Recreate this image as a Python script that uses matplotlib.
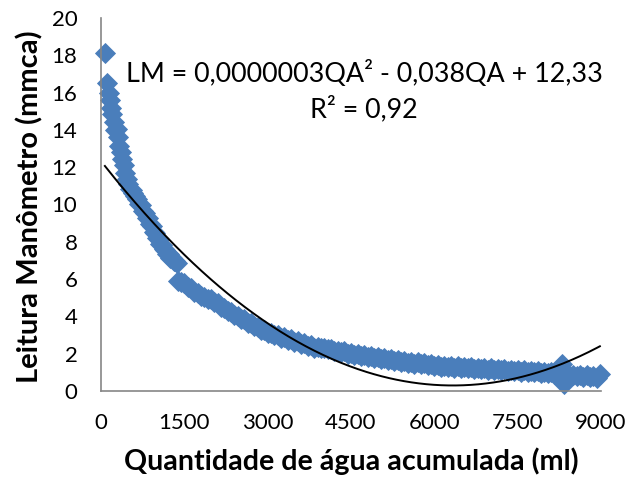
import matplotlib
matplotlib.use("Agg")
import matplotlib.pyplot as plt
import numpy as np

# ---- data ----
water_ml = [
    # steep section
    70, 108, 135, 162, 180, 198, 225, 252, 280, 306,
    330, 355, 379, 405, 432, 460, 487, 515, 550, 580,
    613, 645, 680, 720, 758, 790, 820, 850, 884, 915,
    950, 980, 1010, 1040, 1070, 1100, 1130, 1160, 1190, 1220,
    1250, 1280, 1310, 1340, 1371,
    # after the step
    1390, 1440, 1500, 1560, 1620, 1680, 1740, 1800, 1860, 1920,
    1980, 2040, 2100, 2160, 2220, 2280, 2340, 2400, 2460, 2520,
    2580, 2640, 2700, 2760, 2820, 2880, 2940, 3000, 3060, 3120,
    3180, 3240, 3300, 3360, 3420, 3480, 3540, 3600, 3660, 3720,
    3780, 3840, 3900, 3960, 4020, 4080, 4140, 4200, 4260, 4320,
    4380, 4440, 4500, 4560, 4620, 4680, 4740, 4800, 4860, 4920,
    4980, 5040, 5100, 5160, 5220, 5280, 5340, 5400, 5460, 5520,
    5580, 5640, 5700, 5760, 5820, 5880, 5940, 6000, 6060, 6120,
    6180, 6240, 6300, 6360, 6420, 6480, 6540, 6600, 6660, 6720,
    6780, 6840, 6900, 6960, 7020, 7080, 7140, 7200, 7260, 7320,
    7380, 7440, 7500, 7560, 7620, 7680, 7740, 7800, 7860, 7920,
    7980, 8040, 8100, 8160, 8220, 8290, 8330, 8380, 8440, 8500,
    8560, 8620, 8680, 8740, 8800, 8860, 8920, 8980,
]
reading_mmca = [
    # steep section
    18.15, 16.5, 16.0, 15.6, 15.2, 14.85, 14.45, 14.0, 14.05, 13.6,
    13.15, 12.8, 12.45, 12.1, 11.7, 11.35, 11.1, 10.85, 10.8, 10.6,
    10.45, 10.3, 10.05, 9.95, 9.65, 9.55, 9.3, 9.25, 8.95, 8.85,
    8.55, 8.47, 8.2, 8.15, 7.9, 7.85, 7.6, 7.57, 7.35, 7.35,
    7.15, 7.15, 6.95, 6.97, 6.85,
    # after the step
    5.9, 5.82, 5.78, 5.58, 5.5, 5.32, 5.25, 5.08, 5.05, 4.92,
    4.92, 4.75, 4.7, 4.52, 4.47, 4.28, 4.24, 4.05, 4.02, 3.88,
    3.84, 3.67, 3.65, 3.47, 3.44, 3.29, 3.27, 3.12, 3.12, 2.98,
    3.0, 2.86, 2.9, 2.76, 2.78, 2.64, 2.66, 2.52, 2.55, 2.42,
    2.44, 2.33, 2.38, 2.28, 2.32, 2.23, 2.27, 2.12, 2.17, 2.07,
    2.12, 2.01, 2.06, 1.95, 1.99, 1.9, 1.95, 1.84, 1.89, 1.79,
    1.84, 1.72, 1.77, 1.67, 1.73, 1.62, 1.66, 1.57, 1.62, 1.52,
    1.57, 1.47, 1.53, 1.43, 1.48, 1.39, 1.45, 1.36, 1.41, 1.31,
    1.36, 1.27, 1.33, 1.25, 1.32, 1.23, 1.3, 1.21, 1.28, 1.19,
    1.26, 1.16, 1.23, 1.14, 1.21, 1.12, 1.19, 1.1, 1.17, 1.08,
    1.15, 1.06, 1.13, 1.04, 1.11, 1.02, 1.09, 1.0, 1.06, 0.98,
    1.03, 0.94, 1.0, 0.9, 0.96, 1.45, 0.35, 0.88, 0.83, 0.86,
    0.78, 0.86, 0.76, 0.84, 0.74, 0.82, 0.72, 0.9,
]

# polynomial trend line coefficients (a*x^2 + b*x + c)
trend_a = 0.0000003
trend_b = -0.0038
trend_c = 12.33

x_ticks = [0, 1500, 3000, 4500, 6000, 7500, 9000]
y_ticks = [0, 2, 4, 6, 8, 10, 12, 14, 16, 18, 20]

eq_line1 = "LM = 0,0000003QA² - 0,038QA + 12,33"
eq_line2 = "R² = 0,92"
x_title = "Quantidade de água acumulada (ml)"
y_title = "Leitura Manômetro (mmca)"

# ---- figure ----
FONT = "Lato"
plt.rcParams["font.family"] = [FONT, "DejaVu Sans"]

W, H = 641, 479
fig = plt.figure(figsize=(W / 100, H / 100), dpi=100)
left_px, right_px, top_px, bottom_px = 101, 601, 18, 391
ax = fig.add_axes([left_px / W, 1 - bottom_px / H,
                   (right_px - left_px) / W, (bottom_px - top_px) / H])

marker_color = "#4A7EBB"
ax.plot(water_ml, reading_mmca, linestyle="none", marker="D",
        markersize=10.5, markerfacecolor=marker_color,
        markeredgecolor=marker_color, markeredgewidth=0.6, zorder=2,
        clip_on=False)

xs = np.linspace(min(water_ml), max(water_ml), 400)
ax.plot(xs, trend_a * xs ** 2 + trend_b * xs + trend_c,
        color="black", linewidth=1.4, zorder=3, clip_on=False)

ax.set_xlim(0, 9000)
ax.set_ylim(0, 20)
ax.set_xticks(x_ticks)
ax.set_yticks(y_ticks)
ax.tick_params(axis="both", length=0, labelsize=16, colors="black")
ax.tick_params(axis="x", pad=16)
ax.tick_params(axis="y", pad=17)
for s in ("top", "right"):
    ax.spines[s].set_visible(False)
for s in ("left", "bottom"):
    ax.spines[s].set_color("#868686")
    ax.spines[s].set_linewidth(1.2)

fig.text(364 / W, 1 - 74 / H, eq_line1, ha="center", va="center",
         fontsize=19.4)
fig.text(364 / W, 1 - 109 / H, eq_line2, ha="center", va="center",
         fontsize=19.4)

fig.text(351 / W, 1 - 461 / H, x_title, ha="center", va="center",
         fontsize=20.6, fontweight="bold")
fig.text(30 / W, 1 - 207 / H, y_title, ha="center", va="center",
         fontsize=21, fontweight="bold", rotation=90)

fig.savefig("out.png", dpi=100)
